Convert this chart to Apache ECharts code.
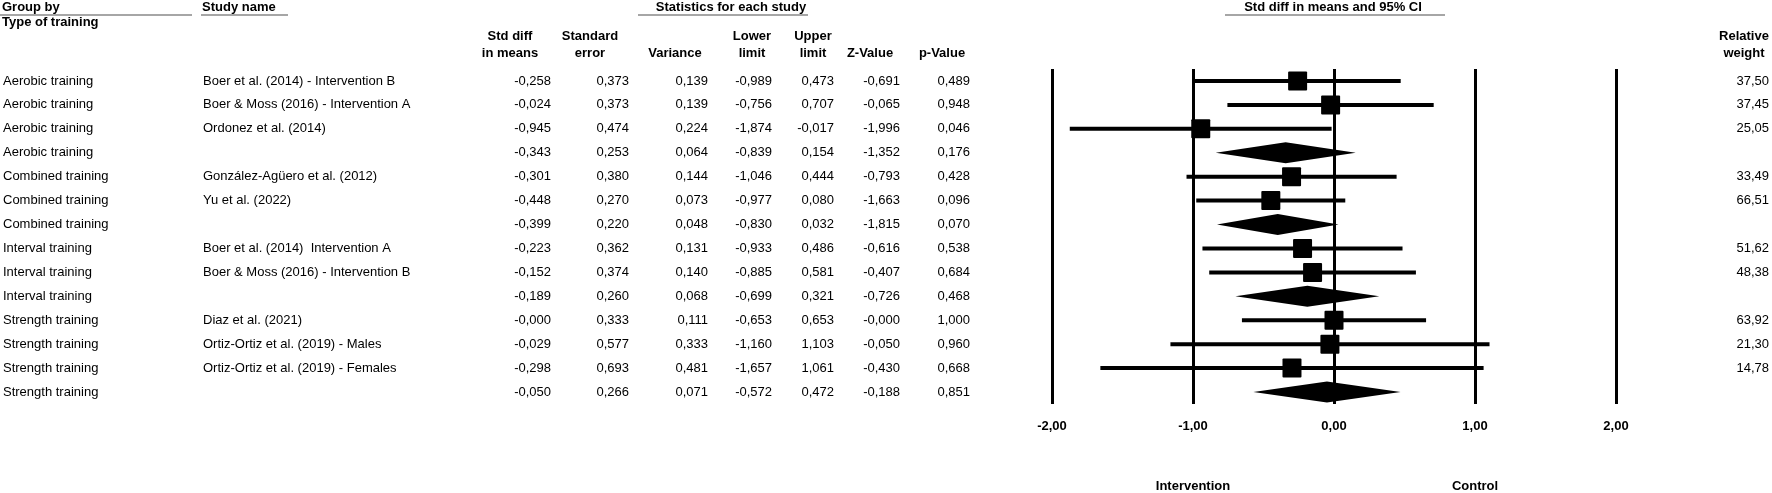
<!DOCTYPE html>
<html><head><meta charset="utf-8">
<script src="https://cdn.jsdelivr.net/npm/echarts@6/dist/echarts.min.js"></script>
<style>html,body{margin:0;padding:0;background:#fff}#c{width:1772px;height:493px}</style>
</head><body><div id="c"></div>
<script>
// ---- data ----
const groups = ["Aerobic training","Aerobic training","Aerobic training","Aerobic training",
  "Combined training","Combined training","Combined training",
  "Interval training","Interval training","Interval training",
  "Strength training","Strength training","Strength training","Strength training"];
const studies = ["Boer et al. (2014) - Intervention B","Boer & Moss (2016) - Intervention A","Ordonez et al. (2014)","",
  "González-Agüero et al. (2012)","Yu et al. (2022)","",
  "Boer et al. (2014)  Intervention A","Boer & Moss (2016) - Intervention B","",
  "Diaz et al. (2021)","Ortiz-Ortiz et al. (2019) - Males","Ortiz-Ortiz et al. (2019) - Females",""];
const isSubtotal = [0,0,0,1,0,0,1,0,0,1,0,0,0,1];
const stdDiff  = [-0.258,-0.024,-0.945,-0.343,-0.301,-0.448,-0.399,-0.223,-0.152,-0.189,-0.000,-0.029,-0.298,-0.050];
const stdErr   = [0.373,0.373,0.474,0.253,0.380,0.270,0.220,0.362,0.374,0.260,0.333,0.577,0.693,0.266];
const variance = [0.139,0.139,0.224,0.064,0.144,0.073,0.048,0.131,0.140,0.068,0.111,0.333,0.481,0.071];
const lower    = [-0.989,-0.756,-1.874,-0.839,-1.046,-0.977,-0.830,-0.933,-0.885,-0.699,-0.653,-1.160,-1.657,-0.572];
const upper    = [0.473,0.707,-0.017,0.154,0.444,0.080,0.032,0.486,0.581,0.321,0.653,1.103,1.061,0.472];
const zValue   = [-0.691,-0.065,-1.996,-1.352,-0.793,-1.663,-1.815,-0.616,-0.407,-0.726,-0.000,-0.050,-0.430,-0.188];
const pValue   = [0.489,0.948,0.046,0.176,0.428,0.096,0.070,0.538,0.684,0.468,1.000,0.960,0.668,0.851];
const weights  = [37.50,37.45,25.05,null,33.49,66.51,null,51.62,48.38,null,63.92,21.30,14.78,null];
const xTicks = [-2,-1,0,1,2];
const directionAt = [-1, 1];
const directionLabels = ["Intervention","Control"];

// ---- helpers ----
const fmt = (v, d) => v == null ? '' : ((v < 0 || Object.is(v, -0)) ? '-' : '') + Math.abs(v).toFixed(d).replace('.', ',');
const rows = groups.map((_, i) => String(i));
const FONT = '"Liberation Sans", Arial, sans-serif';
const txt = { fontFamily: FONT, fontSize: 13, color: '#000' };

const gridLeft = 1051, gridRight = 1616, gridTop = 69, gridBottom = 405;

function colAxis(values, edge, align, pos) {
  return {
    type: 'category', data: rows, inverse: true, gridIndex: 0,
    position: pos || 'left',
    offset: pos === 'right' ? edge - gridRight : gridLeft - edge,
    axisLine: { show: false }, axisTick: { show: false }, splitLine: { show: false },
    axisLabel: Object.assign({ interval: 0, margin: 0, align: align, padding: [1, 0, 0, 0],
      formatter: (v, i) => values[i] }, txt)
  };
}

const yAxes = [
  { type: 'category', data: rows, inverse: true, show: false },
  colAxis(groups, 2, 'left'),
  colAxis(studies, 202, 'left'),
  colAxis(stdDiff.map(v => fmt(v, 3)), 550, 'right'),
  colAxis(stdErr.map(v => fmt(v, 3)), 628, 'right'),
  colAxis(variance.map(v => fmt(v, 3)), 707, 'right'),
  colAxis(lower.map(v => fmt(v, 3)), 771, 'right'),
  colAxis(upper.map(v => fmt(v, 3)), 833, 'right'),
  colAxis(zValue.map(v => fmt(v, 3)), 899, 'right'),
  colAxis(pValue.map(v => fmt(v, 3)), 969, 'right'),
  colAxis(weights.map(v => fmt(v, 2)), 1769, 'right', 'right')
];

const bold = { fontFamily: FONT, fontSize: 13, fontWeight: 'bold', fill: '#000' };
function hText(x, y, text, align) {
  return { type: 'text', x: x, y: y, style: Object.assign({ text: text, align: align || 'left', verticalAlign: 'middle', lineHeight: 17 }, bold) };
}
function uLine(x1, x2, y) {
  return { type: 'line', shape: { x1: x1, y1: y, x2: x2, y2: y }, style: { stroke: '#a6a6a6', lineWidth: 2 } };
}

const option = {
  backgroundColor: '#fff',
  animation: false,
  grid: { left: gridLeft, right: 1772 - gridRight, top: gridTop, bottom: 493 - gridBottom, containLabel: false },
  xAxis: [
    { type: 'value', min: -2, max: 2, interval: 1,
      axisLine: { show: false }, axisTick: { show: false },
      splitLine: { show: true, lineStyle: { color: '#000', width: 3 } },
      axisLabel: Object.assign({ margin: 16, fontWeight: 'bold',
        formatter: v => xTicks.includes(v) ? fmt(v, 2).replace('-0,00','0,00') : '' }, txt) },
    { type: 'value', min: -2, max: 2, interval: 1, position: 'bottom', offset: 76,
      axisLine: { show: false }, axisTick: { show: false }, splitLine: { show: false },
      axisLabel: Object.assign({ margin: 0, fontWeight: 'bold', showMinLabel: true, showMaxLabel: true,
        formatter: v => { const k = directionAt.indexOf(v); return k >= 0 ? directionLabels[k] : ''; } }, txt) }
  ],
  yAxis: yAxes,
  graphic: [
    hText(2, 7, 'Group by'), uLine(0, 192, 15),
    hText(2, 22, 'Type of training'),
    hText(202, 7, 'Study name'), uLine(201, 288, 15),
    hText(731, 7, 'Statistics for each study', 'center'), uLine(638, 808, 15),
    hText(1333, 7, 'Std diff in means and 95% CI', 'center'), uLine(1225, 1445, 15),
    hText(510, 44.5, 'Std diff\nin means', 'center'),
    hText(590, 44.5, 'Standard\nerror', 'center'),
    hText(675, 53, 'Variance', 'center'),
    hText(752, 44.5, 'Lower\nlimit', 'center'),
    hText(813, 44.5, 'Upper\nlimit', 'center'),
    hText(870, 53, 'Z-Value', 'center'),
    hText(942, 53, 'p-Value', 'center'),
    hText(1744, 44.5, 'Relative\nweight', 'center')
  ],
  series: [{
    type: 'custom', xAxisIndex: 0, yAxisIndex: 0, clip: false,
    encode: { x: [0, 2, 3], y: 1 },
    data: stdDiff.map((v, i) => [v, i, lower[i], upper[i], isSubtotal[i]]),
    renderItem: function (params, api) {
      const i = api.value(1);
      const pE = api.coord([api.value(0), i]);
      const pL = api.coord([api.value(2), i]);
      const pH = api.coord([api.value(3), i]);
      if (api.value(4)) {
        const h = 10.5;
        return { type: 'polygon', shape: { points: [[pL[0], pE[1]], [pE[0], pE[1] - h], [pH[0], pE[1]], [pE[0], pE[1] + h]] }, style: { fill: '#000' } };
      }
      const s = 9.5;
      return { type: 'group', children: [
        { type: 'line', shape: { x1: pL[0], y1: pE[1], x2: pH[0], y2: pE[1] }, style: { stroke: '#000', lineWidth: 4 } },
        { type: 'rect', shape: { x: pE[0] - s, y: pE[1] - s, width: 2 * s, height: 2 * s, r: 1 }, style: { fill: '#000' } }
      ] };
    }
  }]
};
const chart = echarts.init(document.getElementById('c'), null, { renderer: 'canvas' });
chart.setOption(option);
</script>
</body></html>
